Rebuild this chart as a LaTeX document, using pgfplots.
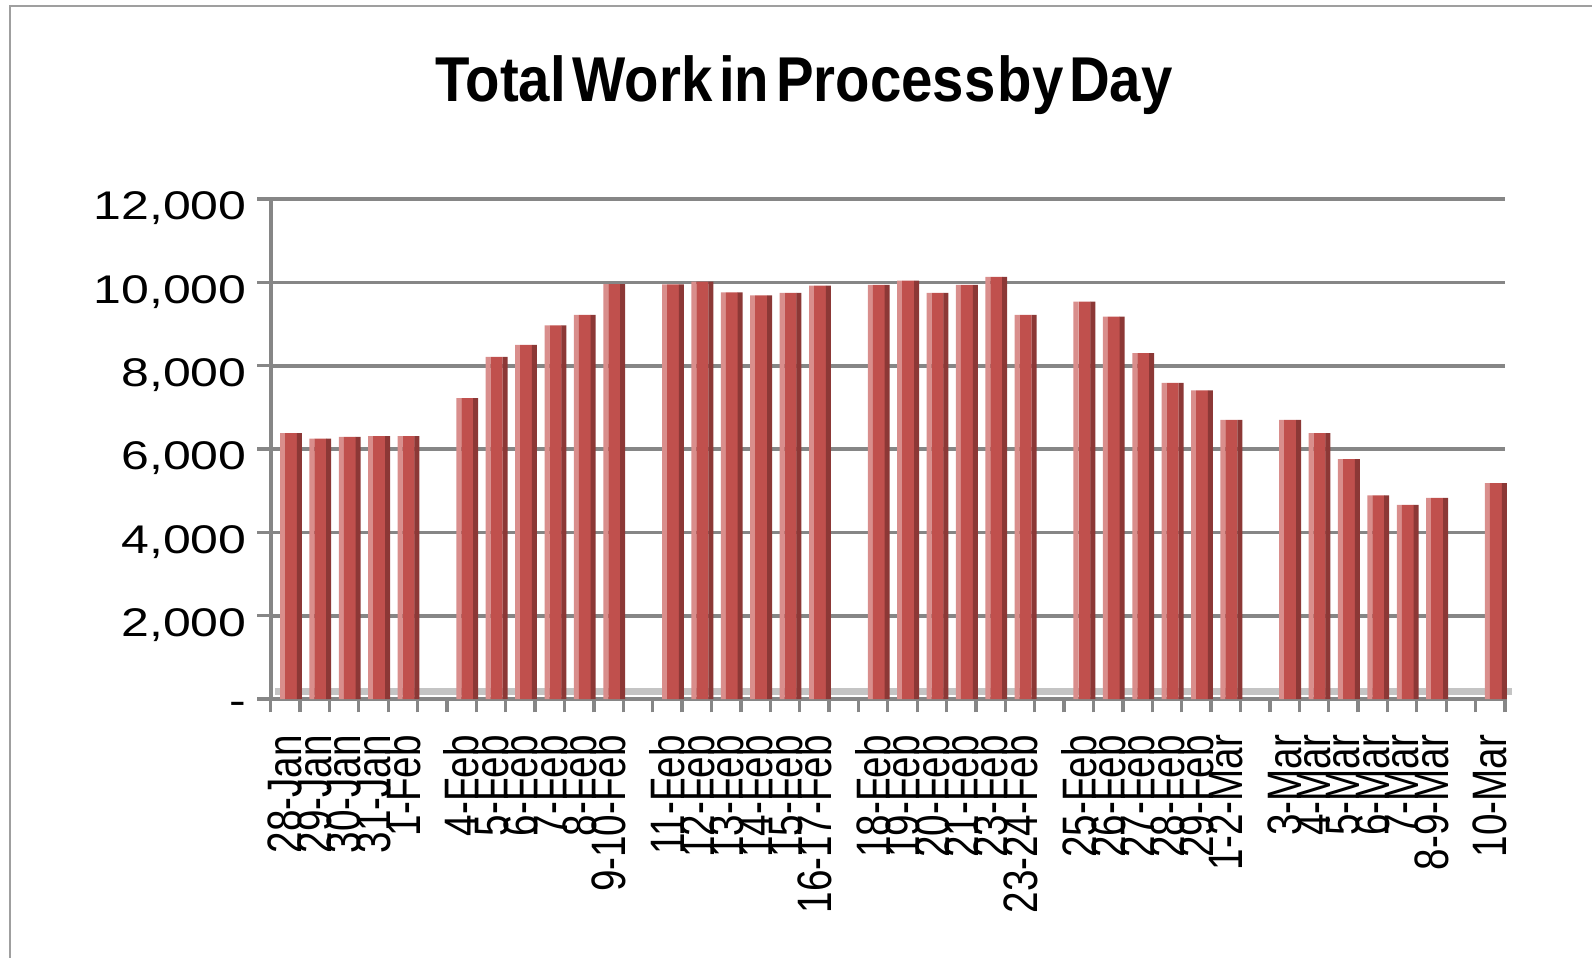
\documentclass[border=0pt]{standalone}
\usepackage{fontspec}
\setmainfont{Liberation Sans}
\usepackage{pgfplots}
\usepackage{pgfplotstable}
\pgfplotsset{compat=1.18}
\definecolor{barred}{HTML}{C0504D}
\definecolor{bardark}{HTML}{8C3836}
\definecolor{barlight}{HTML}{D98E8C}
\definecolor{gridgray}{HTML}{868686}
\definecolor{floorgray}{HTML}{C4C4C4}
\pgfplotstableread{
x v
0 6380
1 6250
2 6290
3 6310
4 6310
6 7220
7 8210
8 8500
9 8970
10 9220
11 9960
13 9950
14 10020
15 9760
16 9690
17 9750
18 9920
20 9940
21 10040
22 9750
23 9940
24 10130
25 9220
27 9540
28 9180
29 8300
30 7590
31 7410
32 6700
34 6700
35 6380
36 5760
37 4890
38 4660
39 4830
41 5180
}\wip
\begin{document}
\begin{tikzpicture}
\useasboundingbox (-81.2pt,-77.4pt) rectangle (396.4pt,209.7pt);
\draw[gray!75, line width=0.7pt] (-78.2pt,-80pt) -- (-78.2pt,207.9pt) -- (400pt,207.9pt);
\node[anchor=base, font=\bfseries\fontsize{19}{19}\selectfont, xscale=0.89, inner sep=0pt]
  at (160pt,179.3pt) {Total\hspace{0.12em}Work\hspace{0.12em}in\hspace{0.12em}Process\hspace{0.04em}by\hspace{0.1em}Day};
\begin{axis}[
  at={(0pt,0pt)}, anchor=south west,
  scale only axis, width=370.3pt, height=150pt,
  xmin=-0.5, xmax=41.5, ymin=0, ymax=12000,
  axis x line*=bottom, axis y line*=left,
  xtick={-0.5,0.5,...,41.5},
  x tick label as interval=true,
  xticklabels={28-Jan,29-Jan,30-Jan,31-Jan,1-Feb,{},4-Feb,5-Feb,6-Feb,7-Feb,8-Feb,9-10-Feb,{},11-Feb,12-Feb,13-Feb,14-Feb,15-Feb,16-17-Feb,{},18-Feb,19-Feb,20-Feb,21-Feb,23-Feb,23-24-Feb,{},25-Feb,26-Feb,27-Feb,28-Feb,29-Feb,1-2-Mar,{},3-Mar,4-Mar,5-Mar,6-Mar,7-Mar,8-9-Mar,{},10-Mar,{}},
  ytick={0,2000,4000,6000,8000,10000,12000},
  yticklabels={-,{2,000},{4,000},{6,000},{8,000},{10,000},{12,000}},
  scaled y ticks=false,
  tick align=outside, major tick length=4pt,
  ymajorgrids, major grid style={draw=gridgray, line width=1.1pt},
  axis line style={draw=gridgray, line width=1.2pt},
  tick style={draw=gridgray, line width=1pt},
  xticklabel style={font=\fontsize{11.6}{11.6}\selectfont, yshift=-6.6pt, rotate=90, yscale=1.25, anchor=east, inner sep=0pt},
  yticklabel style={font=\fontsize{12}{12}\selectfont, xshift=-3pt, yshift=-2.8pt, anchor=east, xscale=1.25, inner sep=0pt},
  clip=false,
]
\draw[floorgray, line width=2.1pt] ([yshift=2.4pt]axis cs:-0.35,0) -- ([yshift=2.4pt]axis cs:41.75,0);
\addplot[ybar, bar width=1.5pt, bar shift=-0.855pt, fill=barlight, draw=none] table[x=x,y=v]{\wip};
\addplot[ybar, bar width=3.6pt, bar shift=1.7pt, fill=barred, draw=none] table[x=x,y=v]{\wip};
\addplot[ybar, bar width=1.5pt, bar shift=4.2pt, fill=bardark, draw=none] table[x=x,y=v]{\wip};
\end{axis}
\end{tikzpicture}
\end{document}
